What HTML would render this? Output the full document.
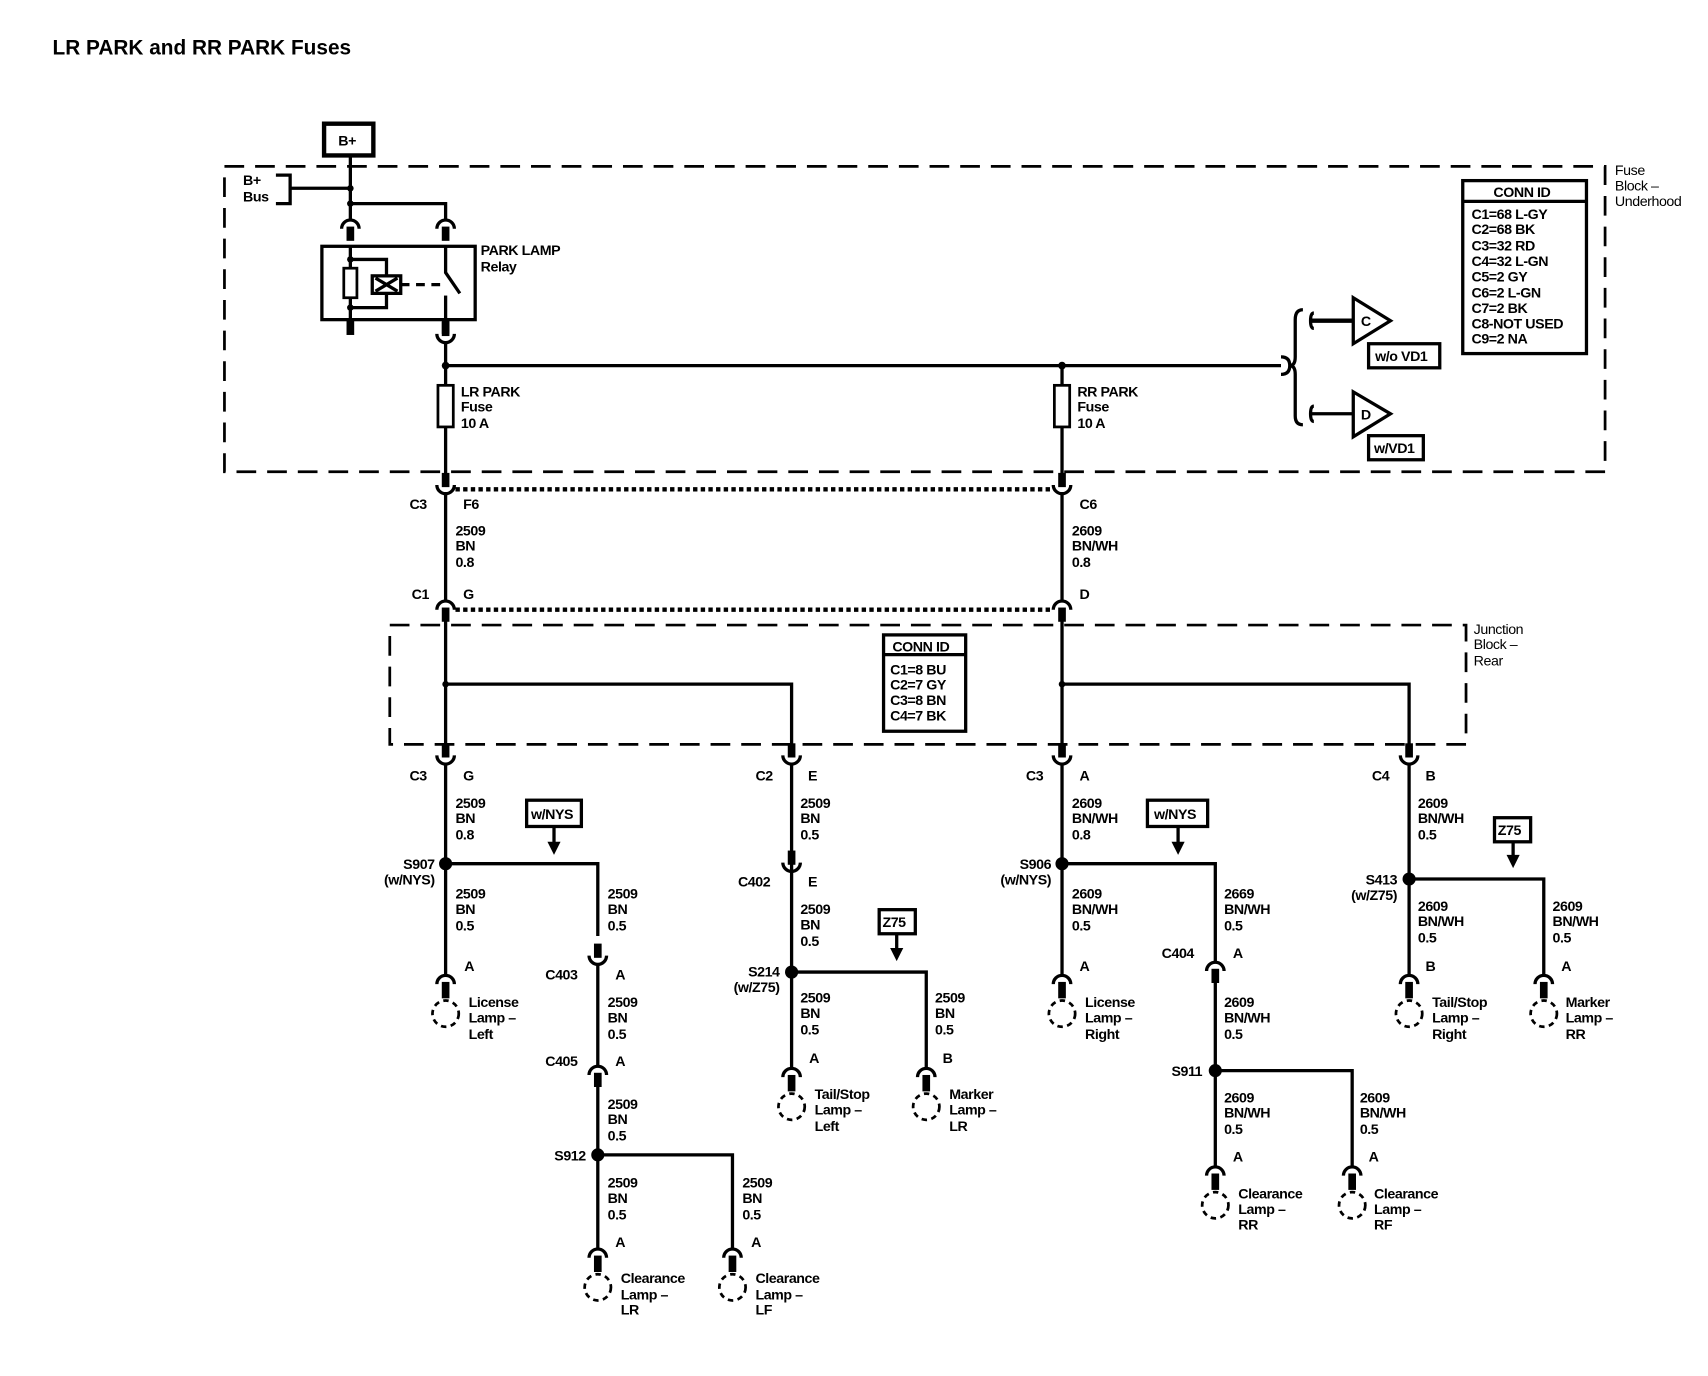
<!DOCTYPE html>
<html><head><meta charset="utf-8"><style>
html,body{margin:0;padding:0;background:#fff}
svg{display:block}
text{font-family:"Liberation Sans",sans-serif;font-size:13px;font-weight:bold;fill:#000;letter-spacing:-0.4px}
.w{stroke:#000;stroke-width:3;fill:none}
.d{stroke:#000;stroke-width:2.5;fill:none;stroke-dasharray:18 10}
.s{stroke:#000;stroke-width:7;fill:none}
.lc{stroke:#000;stroke-width:2.5;fill:none;stroke-dasharray:5 4}
.dot{stroke:#000;stroke-width:4;fill:none;stroke-dasharray:4 3}
</style></head><body>
<svg width="1708" height="1376" viewBox="0 0 1560 1257" preserveAspectRatio="none" xmlns="http://www.w3.org/2000/svg">
<defs>
<g id="cap"><path class="w" d="M-8 9 A8 8 0 0 1 8 9"/><line class="s" x1="0" y1="7" x2="0" y2="20"/></g>
<g id="cup"><line class="s" x1="0" y1="-20" x2="0" y2="-7"/><path class="w" d="M-8 -9 A8 8 0 0 0 8 -9"/></g>
<g id="lamp"><path class="w" d="M-8 9 A8 8 0 0 1 8 9"/><line class="s" x1="0" y1="7" x2="0" y2="22"/><circle class="lc" cx="0" cy="36" r="12"/></g>
<g id="arr"><path d="M-6 0 L6 0 L0 12 Z" fill="#000"/></g>
</defs>
<text x="48" y="50" style="font-size:19px;letter-spacing:0">LR PARK and RR PARK Fuses</text>

<!-- B+ -->
<rect x="296" y="113" width="45" height="29" fill="none" stroke="#000" stroke-width="4"/>
<text x="309" y="133">B+</text>
<line class="w" x1="320" y1="142" x2="320" y2="200"/>
<rect class="d" x="205" y="152" width="1261" height="279"/>
<text x="222" y="169">B+</text><text x="222" y="184">Bus</text>
<path class="w" d="M252 160 H265 V186 H252"/>
<line class="w" x1="265" y1="172" x2="320" y2="172"/>
<circle cx="320" cy="172" r="3"/><circle cx="320" cy="186" r="3"/>
<path class="w" d="M320 186 H407 V200"/>
<use href="#cap" x="320" y="200"/><use href="#cap" x="407" y="200"/>
<!-- relay -->
<rect x="294" y="225" width="140" height="67" fill="none" stroke="#000" stroke-width="3"/>
<line class="w" x1="320" y1="225" x2="320" y2="292"/>
<circle cx="320" cy="237" r="3"/><circle cx="320" cy="281" r="3"/>
<path class="w" d="M320 237 H353 V281 H320"/>
<rect x="314" y="245" width="12" height="27" fill="#fff" stroke="#000" stroke-width="2.5"/>
<rect x="340" y="252" width="26" height="16" fill="#fff" stroke="#000" stroke-width="3"/>
<path class="w" d="M343 254 L363 266 M343 266 L363 254" stroke-width="2"/>
<line class="w" x1="366" y1="260" x2="404" y2="260" stroke-dasharray="8 6"/>
<path class="w" d="M407 225 V249 L420 268"/>
<line class="w" x1="407" y1="270" x2="407" y2="292"/>
<line class="s" x1="320" y1="292" x2="320" y2="306"/>
<use href="#cup" x="407" y="314"/>
<line class="s" x1="407" y1="292" x2="407" y2="305"/>
<text x="439" y="233">PARK LAMP</text><text x="439" y="248">Relay</text>
<line class="w" x1="407" y1="314" x2="407" y2="440"/>
<line class="w" x1="407" y1="334" x2="1170" y2="334"/>
<circle cx="407" cy="334" r="3.5"/><circle cx="970" cy="334" r="3.5"/>
<line class="w" x1="970" y1="334" x2="970" y2="440"/>
<!-- bracket -->
<path class="w" d="M1170 326 Q1178 326 1178 334 Q1178 342 1170 342" stroke-width="2.5"/>
<path class="w" d="M1190 283 Q1183 283 1183 292 V326 Q1183 334 1178 334 Q1183 334 1183 342 V380 Q1183 388 1190 388" stroke-width="2.5"/>
<path class="w" d="M1200 286 Q1197 286 1197 293 Q1197 300 1200 300" stroke-width="2.5"/>
<path class="w" d="M1200 371 Q1197 371 1197 378 Q1197 385 1200 385" stroke-width="2.5"/>
<line x1="1197" y1="293" x2="1236" y2="293" stroke="#000" stroke-width="4"/>
<line x1="1197" y1="378" x2="1236" y2="378" stroke="#000" stroke-width="3"/>
<path d="M1236 272 L1270 293 L1236 314 Z" fill="none" stroke="#000" stroke-width="3"/>
<path d="M1236 358 L1270 378 L1236 399 Z" fill="none" stroke="#000" stroke-width="3"/>
<text x="1243" y="298">C</text><text x="1243" y="383">D</text>
<rect x="1250" y="314" width="65" height="22" fill="none" stroke="#000" stroke-width="3"/>
<text x="1256" y="330">w/o VD1</text>
<rect x="1250" y="398" width="50" height="22" fill="none" stroke="#000" stroke-width="3"/>
<text x="1255" y="414">w/VD1</text>
<!-- fuses -->
<rect x="400" y="352" width="14" height="38" fill="#fff" stroke="#000" stroke-width="2.5"/>
<rect x="963" y="352" width="14" height="38" fill="#fff" stroke="#000" stroke-width="2.5"/>
<text x="421" y="362">LR PARK</text><text x="421" y="376">Fuse</text><text x="421" y="391">10 A</text>
<text x="984" y="362">RR PARK</text><text x="984" y="376">Fuse</text><text x="984" y="391">10 A</text>
<!-- conn id 1 -->
<rect x="1336" y="165" width="113" height="158" fill="none" stroke="#000" stroke-width="3"/>
<line class="w" x1="1336" y1="184" x2="1449" y2="184"/>
<text x="1364" y="180">CONN ID</text>
<text x="1344" y="200">C1=68 L-GY</text><text x="1344" y="214">C2=68 BK</text><text x="1344" y="229">C3=32 RD</text>
<text x="1344" y="243">C4=32 L-GN</text><text x="1344" y="257">C5=2 GY</text><text x="1344" y="272">C6=2 L-GN</text>
<text x="1344" y="286">C7=2 BK</text><text x="1344" y="300">C8-NOT USED</text><text x="1344" y="314">C9=2 NA</text>
<text x="1475" y="160" style="font-weight:normal">Fuse</text><text x="1475" y="174" style="font-weight:normal">Block –</text><text x="1475" y="188" style="font-weight:normal">Underhood</text>

<!-- C3/C6 and C1 -->
<use href="#cup" x="407" y="452"/><use href="#cup" x="970" y="452"/>
<line class="dot" x1="416" y1="447" x2="962" y2="447"/>
<text x="374" y="465">C3</text><text x="423" y="465">F6</text><text x="986" y="465">C6</text>
<line class="w" x1="407" y1="452" x2="407" y2="548"/>
<line class="w" x1="970" y1="452" x2="970" y2="548"/>
<text x="416" y="489">2509</text><text x="416" y="503">BN</text><text x="416" y="518">0.8</text>
<text x="979" y="489">2609</text><text x="979" y="503">BN/WH</text><text x="979" y="518">0.8</text>
<use href="#cap" x="407" y="548"/><use href="#cap" x="970" y="548"/>
<line class="dot" x1="416" y1="557" x2="962" y2="557"/>
<text x="376" y="547">C1</text><text x="423" y="547">G</text><text x="986" y="547">D</text>
<!-- junction block -->
<rect class="d" x="356" y="571" width="983" height="109"/>
<text x="1346" y="579" style="font-weight:normal">Junction</text><text x="1346" y="593" style="font-weight:normal">Block –</text><text x="1346" y="608" style="font-weight:normal">Rear</text>
<line class="w" x1="407" y1="566" x2="407" y2="680"/>
<line class="w" x1="970" y1="566" x2="970" y2="680"/>
<circle cx="407" cy="625" r="3"/><circle cx="970" cy="625" r="3"/>
<path class="w" d="M407 625 H723 V680"/><path class="w" d="M970 625 H1287 V680"/>
<rect x="807" y="580" width="75" height="88" fill="none" stroke="#000" stroke-width="3"/>
<line class="w" x1="807" y1="598" x2="882" y2="598"/>
<text x="815" y="595">CONN ID</text>
<text x="813" y="616">C1=8 BU</text><text x="813" y="630">C2=7 GY</text><text x="813" y="644">C3=8 BN</text><text x="813" y="658">C4=7 BK</text>
<use href="#cup" x="407" y="699"/><use href="#cup" x="723" y="699"/><use href="#cup" x="970" y="699"/><use href="#cup" x="1287" y="699"/>
<text x="374" y="713">C3</text><text x="423" y="713">G</text>
<text x="690" y="713">C2</text><text x="738" y="713">E</text>
<text x="937" y="713">C3</text><text x="986" y="713">A</text>
<text x="1253" y="713">C4</text><text x="1302" y="713">B</text>
<text x="416" y="738">2509</text><text x="416" y="752">BN</text><text x="416" y="767">0.8</text>
<text x="731" y="738">2509</text><text x="731" y="752">BN</text><text x="731" y="767">0.5</text>
<text x="979" y="738">2609</text><text x="979" y="752">BN/WH</text><text x="979" y="767">0.8</text>
<text x="1295" y="738">2609</text><text x="1295" y="752">BN/WH</text><text x="1295" y="767">0.5</text>

<!-- left branch -->
<rect x="481" y="731" width="50" height="24" fill="none" stroke="#000" stroke-width="3"/><text x="485" y="748">w/NYS</text>
<line class="w" x1="506" y1="755" x2="506" y2="770"/><use href="#arr" x="506" y="769"/>
<line class="w" x1="407" y1="699" x2="407" y2="890"/>
<circle cx="407" cy="789" r="6"/>
<path class="w" d="M407 789 H546 V855"/>
<text x="397" y="794" text-anchor="end">S907</text><text x="397" y="808" text-anchor="end">(w/NYS)</text>
<text x="416" y="821">2509</text><text x="416" y="835">BN</text><text x="416" y="850">0.5</text>
<text x="555" y="821">2509</text><text x="555" y="835">BN</text><text x="555" y="850">0.5</text>
<use href="#lamp" x="407" y="890"/>
<text x="424" y="887">A</text>
<text x="428" y="920">License</text><text x="428" y="934">Lamp –</text><text x="428" y="949">Left</text>
<use href="#cup" x="546" y="882"/>
<text x="498" y="895">C403</text><text x="562" y="895">A</text>
<line class="w" x1="546" y1="882" x2="546" y2="973"/>
<text x="555" y="920">2509</text><text x="555" y="934">BN</text><text x="555" y="949">0.5</text>
<use href="#cap" x="546" y="973"/>
<text x="498" y="974">C405</text><text x="562" y="974">A</text>
<line class="w" x1="546" y1="990" x2="546" y2="1140"/>
<text x="555" y="1013">2509</text><text x="555" y="1027">BN</text><text x="555" y="1042">0.5</text>
<circle cx="546" cy="1055" r="6"/>
<path class="w" d="M546 1055 H669 V1140"/>
<text x="535" y="1060" text-anchor="end">S912</text>
<text x="555" y="1085">2509</text><text x="555" y="1099">BN</text><text x="555" y="1114">0.5</text>
<text x="678" y="1085">2509</text><text x="678" y="1099">BN</text><text x="678" y="1114">0.5</text>
<use href="#lamp" x="546" y="1140"/><use href="#lamp" x="669" y="1140"/>
<text x="562" y="1139">A</text><text x="686" y="1139">A</text>
<text x="567" y="1172">Clearance</text><text x="567" y="1187">Lamp –</text><text x="567" y="1201">LR</text>
<text x="690" y="1172">Clearance</text><text x="690" y="1187">Lamp –</text><text x="690" y="1201">LF</text>

<!-- middle branch -->
<line class="w" x1="723" y1="699" x2="723" y2="797"/>
<use href="#cup" x="723" y="797"/>
<text x="674" y="810">C402</text><text x="738" y="810">E</text>
<line class="w" x1="723" y1="797" x2="723" y2="975"/>
<text x="731" y="835">2509</text><text x="731" y="849">BN</text><text x="731" y="864">0.5</text>
<rect x="803" y="831" width="33" height="22" fill="none" stroke="#000" stroke-width="3"/><text x="806" y="847">Z75</text>
<line class="w" x1="819" y1="853" x2="819" y2="867"/><use href="#arr" x="819" y="866"/>
<circle cx="723" cy="888" r="6"/>
<path class="w" d="M723 888 H846 V975"/>
<text x="712" y="892" text-anchor="end">S214</text><text x="712" y="906" text-anchor="end">(w/Z75)</text>
<text x="731" y="916">2509</text><text x="731" y="930">BN</text><text x="731" y="945">0.5</text>
<text x="854" y="916">2509</text><text x="854" y="930">BN</text><text x="854" y="945">0.5</text>
<use href="#lamp" x="723" y="975"/><use href="#lamp" x="846" y="975"/>
<text x="739" y="971">A</text><text x="861" y="971">B</text>
<text x="744" y="1004">Tail/Stop</text><text x="744" y="1018">Lamp –</text><text x="744" y="1033">Left</text>
<text x="867" y="1004">Marker</text><text x="867" y="1018">Lamp –</text><text x="867" y="1033">LR</text>

<!-- right branch -->
<rect x="1048" y="731" width="55" height="24" fill="none" stroke="#000" stroke-width="3"/><text x="1054" y="748">w/NYS</text>
<line class="w" x1="1076" y1="755" x2="1076" y2="770"/><use href="#arr" x="1076" y="769"/>
<line class="w" x1="970" y1="699" x2="970" y2="890"/>
<circle cx="970" cy="789" r="6"/>
<path class="w" d="M970 789 H1110 V878"/>
<text x="960" y="794" text-anchor="end">S906</text><text x="960" y="808" text-anchor="end">(w/NYS)</text>
<text x="979" y="821">2609</text><text x="979" y="835">BN/WH</text><text x="979" y="850">0.5</text>
<text x="1118" y="821">2669</text><text x="1118" y="835">BN/WH</text><text x="1118" y="850">0.5</text>
<use href="#lamp" x="970" y="890"/>
<text x="986" y="887">A</text>
<text x="991" y="920">License</text><text x="991" y="934">Lamp –</text><text x="991" y="949">Right</text>
<use href="#cap" x="1110" y="878"/>
<text x="1061" y="875">C404</text><text x="1126" y="875">A</text>
<line class="w" x1="1110" y1="895" x2="1110" y2="1065"/>
<text x="1118" y="920">2609</text><text x="1118" y="934">BN/WH</text><text x="1118" y="949">0.5</text>
<circle cx="1110" cy="978" r="6"/>
<path class="w" d="M1110 978 H1235 V1065"/>
<text x="1098" y="983" text-anchor="end">S911</text>
<text x="1118" y="1007">2609</text><text x="1118" y="1021">BN/WH</text><text x="1118" y="1036">0.5</text>
<text x="1242" y="1007">2609</text><text x="1242" y="1021">BN/WH</text><text x="1242" y="1036">0.5</text>
<use href="#lamp" x="1110" y="1065"/><use href="#lamp" x="1235" y="1065"/>
<text x="1126" y="1061">A</text><text x="1250" y="1061">A</text>
<text x="1131" y="1095">Clearance</text><text x="1131" y="1109">Lamp –</text><text x="1131" y="1123">RR</text>
<text x="1255" y="1095">Clearance</text><text x="1255" y="1109">Lamp –</text><text x="1255" y="1123">RF</text>

<!-- far right -->
<rect x="1365" y="747" width="33" height="22" fill="none" stroke="#000" stroke-width="3"/><text x="1368" y="763">Z75</text>
<line class="w" x1="1382" y1="769" x2="1382" y2="782"/><use href="#arr" x="1382" y="781"/>
<line class="w" x1="1287" y1="699" x2="1287" y2="890"/>
<circle cx="1287" cy="803" r="6"/>
<path class="w" d="M1287 803 H1410 V890"/>
<text x="1276" y="808" text-anchor="end">S413</text><text x="1276" y="822" text-anchor="end">(w/Z75)</text>
<text x="1295" y="832">2609</text><text x="1295" y="846">BN/WH</text><text x="1295" y="861">0.5</text>
<text x="1418" y="832">2609</text><text x="1418" y="846">BN/WH</text><text x="1418" y="861">0.5</text>
<use href="#lamp" x="1287" y="890"/><use href="#lamp" x="1410" y="890"/>
<text x="1302" y="887">B</text><text x="1426" y="887">A</text>
<text x="1308" y="920">Tail/Stop</text><text x="1308" y="934">Lamp –</text><text x="1308" y="949">Right</text>
<text x="1430" y="920">Marker</text><text x="1430" y="934">Lamp –</text><text x="1430" y="949">RR</text>
</svg>
</body></html>
